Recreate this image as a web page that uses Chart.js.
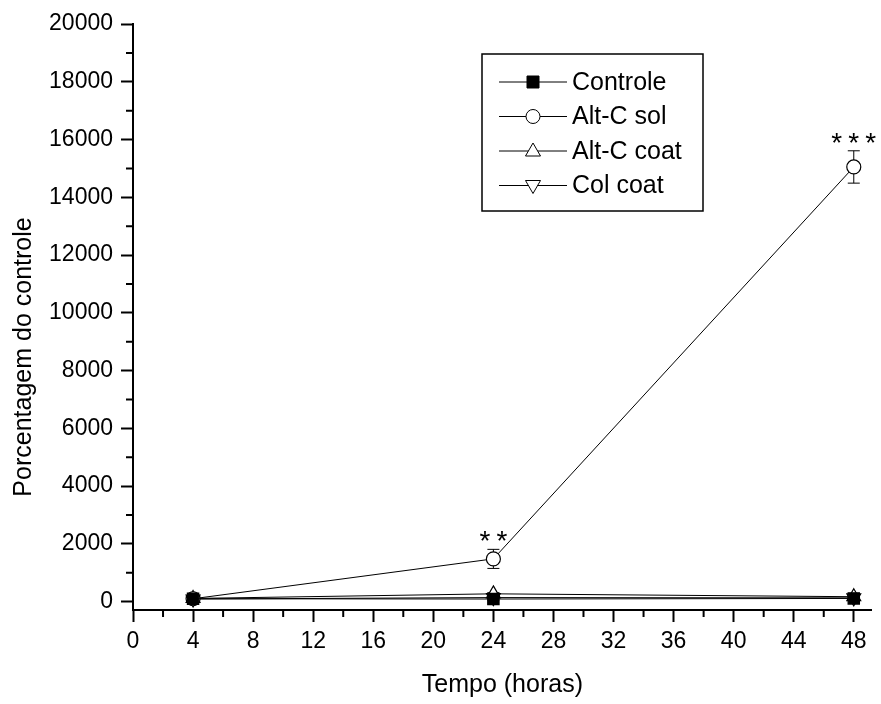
<!DOCTYPE html>
<html>
<head>
<meta charset="utf-8">
<script src="https://cdn.jsdelivr.net/npm/chart.js@4.4.1/dist/chart.umd.min.js"></script>
<style>
  html, body { margin: 0; padding: 0; background: #fff; }
  #wrap { width: 881px; height: 704px; }
</style>
</head>
<body>
<div id="wrap"><canvas id="chart"></canvas></div>
<script>
// dados
const hours = [4, 24, 48];
const controle = [100, 90, 110];
const altCSol = [100, 1480, 15050];
const altCCoat = [110, 270, 170];
const colCoat = [90, 140, 130];
const altCSolErr = [40, 330, 560];
const smallErr = [30, 40, 40];
const stars = ["", "**", "***"];

const xMajor = [0, 4, 8, 12, 16, 20, 24, 28, 32, 36, 40, 44, 48];
const xMinor = [2, 6, 10, 14, 18, 22, 26, 30, 34, 38, 42, 46];
const yMajor = [0, 2000, 4000, 6000, 8000, 10000, 12000, 14000, 16000, 18000, 20000];
const yMinor = [1000, 3000, 5000, 7000, 9000, 11000, 13000, 15000, 17000, 19000];

const seriesNames = ["Controle", "Alt-C sol", "Alt-C coat", "Col coat"];

function mkSet(label, data, style, fill, rot, radius, err) {
  return {
    label, data: hours.map((h, i) => ({ x: h, y: data[i] })),
    err,
    borderColor: "#000", borderWidth: 1,
    pointStyle: style, pointRotation: rot, pointRadius: radius,
    pointBackgroundColor: fill, pointBorderColor: "#000", pointBorderWidth: 1.2,
    tension: 0, fill: false
  };
}

const datasets = [
  mkSet(seriesNames[0], controle, "rect", "#000", 0, 8, smallErr),
  mkSet(seriesNames[1], altCSol, "circle", "#fff", 0, 7, altCSolErr),
  mkSet(seriesNames[2], altCCoat, "triangle", "#fff", 0, 8, smallErr),
  mkSet(seriesNames[3], colCoat, "triangle", "#fff", 180, 8, smallErr)
];

// barras de erro, abaixo dos marcadores
const errorBars = {
  id: "errorBars",
  beforeDatasetsDraw(chart) {
    const { ctx, scales: { x, y } } = chart;
    ctx.save();
    ctx.strokeStyle = "#000";
    ctx.lineWidth = 1;
    chart.data.datasets.forEach(ds => {
      ds.data.forEach((p, i) => {
        const px = x.getPixelForValue(p.x);
        const top = y.getPixelForValue(p.y + ds.err[i]);
        const bot = y.getPixelForValue(p.y - ds.err[i]);
        ctx.beginPath();
        ctx.moveTo(px, top); ctx.lineTo(px, bot);
        ctx.moveTo(px - 6, top); ctx.lineTo(px + 6, top);
        ctx.moveTo(px - 6, bot); ctx.lineTo(px + 6, bot);
        ctx.stroke();
      });
    });
    ctx.restore();
  }
};

function drawMarker(ctx, style, cx, cy, fill, rot) {
  ctx.beginPath();
  if (style === "rect") {
    ctx.rect(cx - 6, cy - 6, 12, 12);
  } else if (style === "circle") {
    ctx.arc(cx, cy, 7, 0, Math.PI * 2);
  } else {
    const s = rot ? -1 : 1;
    ctx.moveTo(cx, cy - 8 * s);
    ctx.lineTo(cx + 7.5, cy + 5 * s);
    ctx.lineTo(cx - 7.5, cy + 5 * s);
    ctx.closePath();
  }
  ctx.fillStyle = fill;
  ctx.fill();
  ctx.stroke();
}

const extras = {
  id: "extras",
  afterDraw(chart) {
    const { ctx, scales: { x, y }, chartArea } = chart;
    ctx.save();
    ctx.strokeStyle = "#000";
    ctx.fillStyle = "#000";
    // marcas menores
    ctx.lineWidth = 2;
    ctx.beginPath();
    xMinor.forEach(v => {
      const px = x.getPixelForValue(v);
      ctx.moveTo(px, chartArea.bottom); ctx.lineTo(px, chartArea.bottom + 7);
    });
    yMinor.forEach(v => {
      const py = y.getPixelForValue(v);
      ctx.moveTo(chartArea.left, py); ctx.lineTo(chartArea.left - 7, py);
    });
    ctx.stroke();

    // asteriscos
    ctx.font = "28px Arial, 'Liberation Sans'";
    ctx.textAlign = "center";
    ctx.textBaseline = "alphabetic";
    stars.forEach((s, i) => {
      if (!s) return;
      const px = x.getPixelForValue(hours[i]);
      const py = y.getPixelForValue(altCSol[i] + altCSolErr[i]);
      const gap = 17;
      for (let k = 0; k < s.length; k++) {
        ctx.fillText("*", px + (k - (s.length - 1) / 2) * gap, py + 1);
      }
    });

    // título do eixo y
    ctx.save();
    ctx.font = "25px Arial, 'Liberation Sans'";
    ctx.translate(24, (chartArea.top + chartArea.bottom) / 2 + 40);
    ctx.rotate(-Math.PI / 2);
    ctx.textAlign = "center";
    ctx.textBaseline = "middle";
    ctx.fillText("Porcentagem do controle", 0, 0);
    ctx.restore();

    // legenda
    const bx = 482, by = 54, bw = 221, bh = 157;
    ctx.lineWidth = 1.5;
    ctx.strokeRect(bx, by, bw, bh);
    ctx.font = "25px Arial, 'Liberation Sans'";
    ctx.textAlign = "left";
    ctx.textBaseline = "middle";
    chart.data.datasets.forEach((ds, i) => {
      const cy = by + 28 + i * 34.5;
      ctx.lineWidth = 1;
      ctx.beginPath();
      ctx.moveTo(bx + 17, cy); ctx.lineTo(bx + 85, cy);
      ctx.stroke();
      drawMarker(ctx, ds.pointStyle, bx + 51, cy, ds.pointBackgroundColor, ds.pointRotation);
      ctx.fillStyle = "#000";
      ctx.fillText(ds.label, bx + 90, cy + 1);
    });
    ctx.restore();
  }
};

const tickFont = { family: "Arial, 'Liberation Sans'", size: 23 };

new Chart(document.getElementById("chart"), {
  type: "line",
  data: { datasets },
  options: {
    responsive: true,
    maintainAspectRatio: false,
    animation: false,
    layout: { padding: { top: 24, right: 0, left: 0, bottom: 0 } },
    plugins: { legend: { display: false }, tooltip: { enabled: false } },
    scales: {
      x: {
        type: "linear", min: 0, max: 49.2,
        afterBuildTicks: s => { s.ticks = xMajor.map(v => ({ value: v })); },
        afterFit: s => { s.height = 94; },
        border: { display: true, color: "#000", width: 2 },
        grid: { drawOnChartArea: false, drawTicks: true, tickLength: 12, tickColor: "#000", tickWidth: 2 },
        ticks: { color: "#000", padding: 6, maxRotation: 0, autoSkip: false, font: tickFont, callback: v => String(v) },
        title: { display: true, text: "Tempo (horas)", color: "#000", padding: { top: 8, bottom: 4 }, font: { family: "Arial, 'Liberation Sans'", size: 25 } }
      },
      y: {
        type: "linear", min: -290, max: 20000,
        afterBuildTicks: s => { s.ticks = yMajor.map(v => ({ value: v })); },
        afterFit: s => { s.width = 133; },
        border: { display: true, color: "#000", width: 2 },
        grid: { drawOnChartArea: false, drawTicks: true, tickLength: 12, tickColor: "#000", tickWidth: 2 },
        ticks: { color: "#000", padding: 8, autoSkip: false, font: tickFont, callback: v => String(v) }
      }
    }
  },
  plugins: [errorBars, extras]
});
</script>
</body>
</html>
